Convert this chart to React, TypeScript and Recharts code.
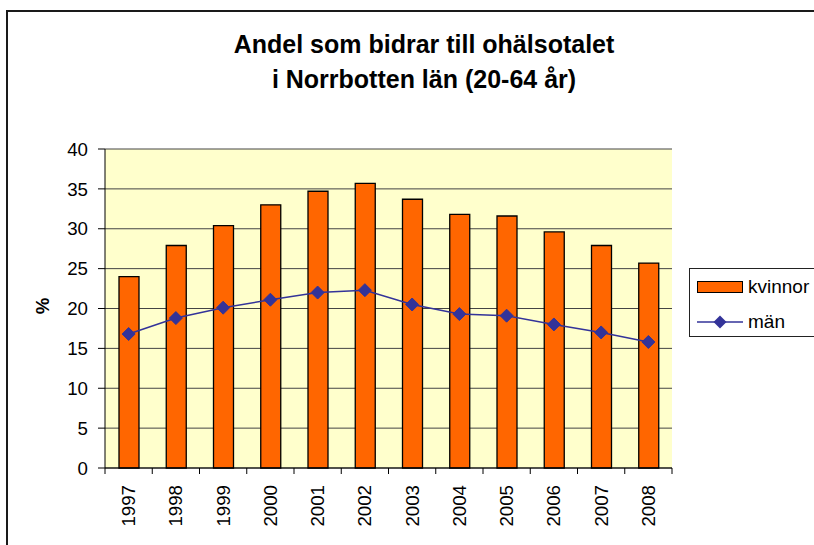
import React from 'react';
import { ComposedChart, Bar, Line, XAxis, YAxis, CartesianGrid } from 'recharts';

const years = ['1997', '1998', '1999', '2000', '2001', '2002', '2003', '2004', '2005', '2006', '2007', '2008'];
const kvinnor = [24.0, 27.9, 30.4, 33.0, 34.7, 35.7, 33.7, 31.8, 31.6, 29.6, 27.9, 25.7];
const man = [16.8, 18.8, 20.1, 21.1, 22.0, 22.3, 20.5, 19.3, 19.1, 18.0, 17.0, 15.8];
const yTicks = [0, 5, 10, 15, 20, 25, 30, 35, 40];
const titleLines = ['Andel som bidrar till ohälsotalet', 'i Norrbotten län (20-64 år)'];
const seriesNames = ['kvinnor', 'män'];

const data = years.map((year, i) => ({ year, kvinnor: kvinnor[i], man: man[i] }));

const FONT = '"Liberation Sans", Arial, sans-serif';
const ORANGE = '#FF6600';
const BLUE = '#333399';
const LABEL_GAP = 17;
const TICK_LEN = 6;

const W = 814;
const H = 545;
const MARGIN = { top: 149, right: 142, left: 45, bottom: 7 };
const Y_AXIS_W = 60;
const X_AXIS_H = 70;
const PLOT_W = W - MARGIN.left - MARGIN.right - Y_AXIS_W;
const HALF_BAND = PLOT_W / years.length / 2;
const AXIS_Y = H - MARGIN.bottom - X_AXIS_H;

const Diamond = (props: any) => {
  const { cx, cy } = props;
  if (cx == null || cy == null) return null;
  const r = 6.5;
  return (
    <polygon
      points={`${cx},${cy - r} ${cx + r},${cy} ${cx},${cy + r} ${cx - r},${cy}`}
      fill={BLUE}
      stroke={BLUE}
    />
  );
};

// year label plus the tick marks that sit between the categories
const YearTick = (props: any) => {
  const { x, payload, index } = props;
  const ty = AXIS_Y + LABEL_GAP;
  return (
    <g>
      <path d={`M${x - HALF_BAND},${AXIS_Y}v${TICK_LEN}`} stroke='#000' strokeWidth={1} />
      {index === years.length - 1 && (
        <path d={`M${x + HALF_BAND},${AXIS_Y}v${TICK_LEN}`} stroke='#000' strokeWidth={1} />
      )}
      <text
        x={x}
        y={ty}
        transform={`rotate(-90 ${x} ${ty})`}
        textAnchor='end'
        dy='0.35em'
        fontSize={18.7}
        fontFamily={FONT}
        fill='#000'
      >
        {payload.value}
      </text>
    </g>
  );
};

export default function App() {
  return (
    <div
      style={{
        position: 'absolute',
        left: 0,
        top: 0,
        width: W,
        height: H,
        overflow: 'hidden',
        background: '#fff',
        fontFamily: FONT
      }}
    >
      <div
        style={{
          position: 'absolute',
          left: 6,
          top: 10,
          width: 1000,
          height: 700,
          border: '2px solid #1a1a1a'
        }}
      />
      <div
        style={{
          position: 'absolute',
          left: 0,
          top: 27,
          width: 848,
          textAlign: 'center',
          fontWeight: 'bold',
          fontSize: 25,
          lineHeight: '35px',
          color: '#000'
        }}
      >
        {titleLines.map((t) => (
          <div key={t}>{t}</div>
        ))}
      </div>
      <div
        style={{
          position: 'absolute',
          left: 43,
          top: 306,
          transform: 'translate(-50%, -50%) rotate(-90deg)',
          fontWeight: 'bold',
          fontSize: 18.7,
          lineHeight: '20px'
        }}
      >
        %
      </div>

      <div style={{ position: 'absolute', left: 0, top: 0 }}>
        <ComposedChart width={W} height={H} data={data} margin={MARGIN}>
          <CartesianGrid vertical={false} stroke='#444' fill='#FFFFCC' fillOpacity={1} />
          <XAxis
            dataKey='year'
            axisLine={{ stroke: '#000' }}
            tickLine={false}
            tickSize={0}
            tickMargin={LABEL_GAP}
            tick={<YearTick />}
            interval={0}
            height={X_AXIS_H}
          />
          <YAxis
            domain={[0, 40]}
            ticks={yTicks}
            width={Y_AXIS_W}
            tickSize={7}
            tickMargin={10}
            axisLine={{ stroke: '#000' }}
            tickLine={{ stroke: '#000' }}
            tick={{ fontSize: 18.7, fill: '#000', fontFamily: FONT }}
            interval={0}
          />
          <YAxis
            yAxisId='r'
            orientation='right'
            domain={[0, 40]}
            width={0}
            tick={false}
            tickLine={false}
            axisLine={{ stroke: '#808080' }}
          />
          <Bar
            dataKey='kvinnor'
            name={seriesNames[0]}
            fill={ORANGE}
            stroke='#000'
            strokeWidth={1.3}
            barSize={20}
            isAnimationActive={false}
          />
          <Line
            dataKey='man'
            name={seriesNames[1]}
            type='linear'
            stroke={BLUE}
            strokeWidth={1.5}
            dot={<Diamond />}
            activeDot={false}
            isAnimationActive={false}
          />
        </ComposedChart>
      </div>

      <div
        style={{
          position: 'absolute',
          left: 689,
          top: 268,
          width: 140,
          height: 67,
          border: '1px solid #222',
          background: '#fff'
        }}
      >
        <div style={{ position: 'absolute', left: 7, top: 12, width: 44, height: 10, background: ORANGE, border: '1px solid #000' }} />
        <div style={{ position: 'absolute', left: 58, top: 7, fontSize: 19, lineHeight: '22px' }}>{seriesNames[0]}</div>
        <svg style={{ position: 'absolute', left: 7, top: 44 }} width={46} height={18}>
          <line x1={0} y1={9} x2={46} y2={9} stroke={BLUE} strokeWidth={1.5} />
          <polygon points='23,2.5 29.5,9 23,15.5 16.5,9' fill={BLUE} />
        </svg>
        <div style={{ position: 'absolute', left: 58, top: 42, fontSize: 19, lineHeight: '22px' }}>{seriesNames[1]}</div>
      </div>
    </div>
  );
}
